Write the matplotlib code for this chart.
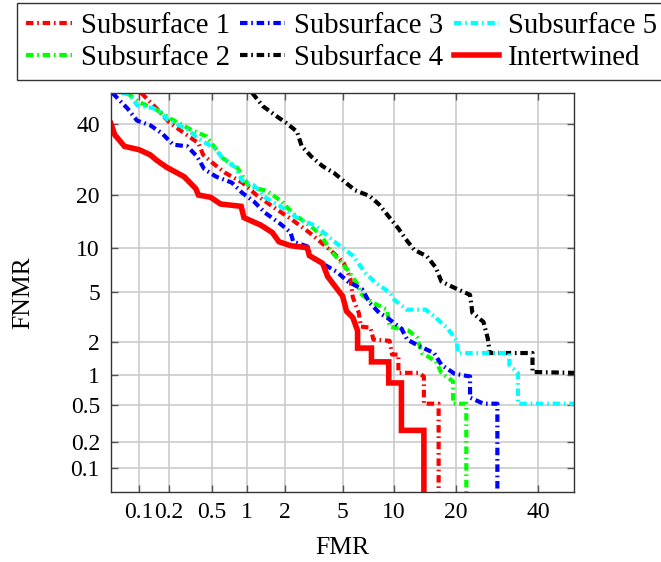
import math
import numpy as np
import matplotlib
matplotlib.use("Agg")
import matplotlib.pyplot as plt
from matplotlib.ticker import FixedLocator, FixedFormatter, NullLocator

# DET curves, values in percent (FMR, FNMR)
s1_fmr = [0.105, 0.15, 0.2, 0.28, 0.38, 0.42, 0.52, 0.66, 0.92, 1.2, 1.7, 2.2, 3.0, 3.7, 4.4,
          5.1, 5.6, 5.8, 6.3, 6.5, 7.4, 7.7, 9.5, 9.8, 10.6, 10.6, 13.5, 14.3, 14.3, 16.8, 16.8]
s1_fnmr = [50, 45, 40.5, 37, 34, 30.5, 28, 25.5, 23, 20, 17, 15, 12.5, 10.7, 9.3,
           8.0, 6.3, 4.6, 3.5, 2.7, 2.65, 2.1, 2.05, 1.55, 1.55, 1.05, 1.05, 0.97, 0.52, 0.52, 0.01]

s2_fmr = [0.075, 0.1, 0.15, 0.21, 0.33, 0.45, 0.63, 0.84, 1.05, 1.45, 1.9, 2.25, 3.2, 3.6, 4.3,
          4.8, 5.4, 6.1, 6.6, 7.6, 9.2, 9.5, 12, 13.2, 14, 16.3, 17.3, 19.5, 19.5, 22.2, 22.2]
s2_fnmr = [50, 47, 44.5, 41.5, 38, 36, 29.5, 26.8, 22, 21, 18.5, 16.2, 13.2, 12, 9.4,
           8.3, 7.2, 5.9, 4.8, 4.2, 3.7, 2.7, 2.5, 2.2, 1.6, 1.35, 1.05, 0.87, 0.52, 0.52, 0.01]

s3_fmr = [0.052, 0.06, 0.075, 0.095, 0.13, 0.17, 0.22, 0.3, 0.37, 0.43, 0.55, 0.75, 0.92, 1.15,
          1.4, 1.85, 2.2, 2.3, 2.9, 3.1, 4.6, 5.4, 6.6, 7.3, 8.3, 9.2, 11, 11.8, 13.5, 16, 17.3,
          19.8, 23, 23, 26, 29.3, 29.3]
s3_fnmr = [50, 48, 45, 41, 39.5, 37, 33.5, 33, 30, 26.5, 24.5, 23, 20.5, 18.5,
           16.2, 14, 12.5, 11, 10.3, 8.8, 7, 6, 5.3, 4.2, 3.5, 3.2, 2.6, 2.1, 1.85, 1.6, 1.25,
           1.03, 0.97, 0.6, 0.52, 0.52, 0.01]

s4_fmr = [1.11, 1.35, 1.7, 2.05, 2.45, 2.65, 3.1, 3.7, 4.4, 5.3, 6.0, 7.3, 8.3, 9.5, 10.6,
          11.6, 12.8, 14.8, 16.3, 17.3, 19.8, 23, 23.5, 26, 27, 27.5, 38.4, 38.4, 50]
s4_fnmr = [50, 45.7, 42.6, 40.2, 37.5, 33, 30, 27.3, 25.5, 22.8, 21.1, 19.8, 17.9, 15.2, 13.2,
           11.4, 9.8, 8.9, 7.5, 6.0, 5.4, 4.8, 3.5, 2.95, 2.15, 1.6, 1.6, 1.07, 1.05]

s5_fmr = [0.065, 0.08, 0.095, 0.14, 0.17, 0.19, 0.25, 0.31, 0.37, 0.53, 0.63, 0.8, 0.92, 1.15,
          1.4, 1.85, 2.5, 3.3, 4.6, 5.8, 6.9, 7.9, 9.5, 10.1, 11.7, 14.6, 16.3, 18.5, 20.2, 20.5,
          32.3, 32.3, 34.5, 34.5, 50]
s5_fnmr = [50, 49.5, 46, 45, 43.5, 41.5, 39.5, 38, 35.5, 32.5, 29.5, 27, 23.5, 22.3,
           19.5, 17.5, 15, 13.7, 10.7, 9, 6.9, 5.9, 5, 4.4, 3.7, 3.7, 3.2, 2.6, 2.05, 1.6,
           1.6, 1.25, 1.05, 0.52, 0.52]

int_fmr = [0.05, 0.055, 0.07, 0.1, 0.13, 0.15, 0.19, 0.28, 0.36, 0.38, 0.49, 0.6, 0.9, 0.95,
           1.3, 1.6, 1.8, 2.2, 2.9, 3.0, 3.7, 4.0, 4.5, 5.0, 5.3, 5.8, 6.2, 6.2, 7.5, 7.5,
           9.4, 9.4, 11.0, 11.0, 14.3, 14.3]
int_fnmr = [40, 36.5, 33, 32, 30.5, 29, 27, 24.5, 21.5, 20, 19.5, 18, 17.5, 15.2,
            13.8, 12.5, 11, 10.4, 10.1, 9, 8, 6.5, 5.5, 4.7, 3.6, 3.2, 2.5, 1.77, 1.77, 1.33,
            1.33, 0.84, 0.84, 0.27, 0.27, 0.01]

tick_vals = [0.1, 0.2, 0.5, 1, 2, 5, 10, 20, 40]
tick_labels = ["0.1", "0.2", "0.5", "1", "2", "5", "10", "20", "40"]

# normal deviate scale (Acklam's approximation of the inverse normal cdf)
A = [-3.969683028665376e+01, 2.209460984245205e+02, -2.759285104469687e+02,
     1.383577518672690e+02, -3.066479806614716e+01, 2.506628277459239e+00]
B = [-5.447609879822406e+01, 1.615858368580409e+02, -1.556989798598866e+02,
     6.680131188771972e+01, -1.328068155288572e+01]
C = [-7.784894002430293e-03, -3.223964580411365e-01, -2.400758277161838e+00,
     -2.549732539343734e+00, 4.374664141464968e+00, 2.938163982698783e+00]
D = [7.784695709041462e-03, 3.224671290700398e-01, 2.445134137142996e+00,
     3.754408661907416e+00]


def probit(pct):
    p = np.clip(np.asarray(pct, dtype=float) / 100.0, 1e-12, 1 - 1e-12)
    q = p - 0.5
    r = q * q
    mid = (((((A[0]*r + A[1])*r + A[2])*r + A[3])*r + A[4])*r + A[5])*q / \
          (((((B[0]*r + B[1])*r + B[2])*r + B[3])*r + B[4])*r + 1)
    ql = np.sqrt(-2 * np.log(p))
    low = (((((C[0]*ql + C[1])*ql + C[2])*ql + C[3])*ql + C[4])*ql + C[5]) / \
          ((((D[0]*ql + D[1])*ql + D[2])*ql + D[3])*ql + 1)
    qh = np.sqrt(-2 * np.log(1 - p))
    high = -(((((C[0]*qh + C[1])*qh + C[2])*qh + C[3])*qh + C[4])*qh + C[5]) / \
           ((((D[0]*qh + D[1])*qh + D[2])*qh + D[3])*qh + 1)
    return np.where(p < 0.02425, low, np.where(p > 1 - 0.02425, high, mid))


_erfc = np.vectorize(math.erfc, otypes=[float])


def inv_probit(z):
    z = np.asarray(z, dtype=float)
    return 50.0 * _erfc(-z / math.sqrt(2))


plt.rcParams["font.family"] = ["Liberation Serif", "DejaVu Serif"]

fig = plt.figure(figsize=(6.61, 5.62), dpi=100)
ax = fig.add_axes([111/661, 70/562, 463/661, 399/562])
ax.set_xscale("function", functions=(probit, inv_probit))
ax.set_yscale("function", functions=(probit, inv_probit))

dash = (0, (1.8, 0.9, 0.4, 0.9))
lw = 3.0
ax.plot(s1_fmr, s1_fnmr, color="red", lw=lw, ls=dash, label="Subsurface 1")
ax.plot(s2_fmr, s2_fnmr, color="#00ff00", lw=lw, ls=dash, label="Subsurface 2")
ax.plot(s3_fmr, s3_fnmr, color="blue", lw=lw, ls=dash, label="Subsurface 3")
ax.plot(s4_fmr, s4_fnmr, color="black", lw=lw, ls=dash, label="Subsurface 4")
ax.plot(s5_fmr, s5_fnmr, color="cyan", lw=lw, ls=dash, label="Subsurface 5")
ax.plot(int_fmr, int_fnmr, color="red", lw=4, solid_joinstyle="miter", label="Intertwined")

ax.set_xlim(0.05, 50)
ax.set_ylim(0.05, 50)
for axis in (ax.xaxis, ax.yaxis):
    axis.set_major_locator(FixedLocator(tick_vals))
    axis.set_major_formatter(FixedFormatter(tick_labels))
    axis.set_minor_locator(NullLocator())

ax.grid(True, color="#cccccc", lw=1.2)
ax.set_axisbelow(True)
ax.tick_params(direction="in", length=5, width=1, color="#555555", top=True, right=True,
               labelsize=17)
ax.tick_params(axis="x", pad=7)
ax.tick_params(axis="y", pad=8)
for sp in ax.spines.values():
    sp.set_color("#333333")
    sp.set_linewidth(1)

ax.set_xlabel("FMR", fontsize=18.5)
ax.set_ylabel("FNMR", fontsize=18.5)
ax.xaxis.set_label_coords(0.5, -0.113)
ax.yaxis.set_label_coords(-0.165, 0.5)

ax.legend(ncol=3, loc="upper left", bbox_to_anchor=(17/661, 1 - 3/562),
          bbox_transform=fig.transFigure, fontsize=20.7, frameon=True, fancybox=False,
          edgecolor="#333333", framealpha=1, handlelength=1.57, handletextpad=0.31,
          columnspacing=0.36, borderpad=0.33, labelspacing=0.21, borderaxespad=0)

fig.savefig("out.png", dpi=100)
